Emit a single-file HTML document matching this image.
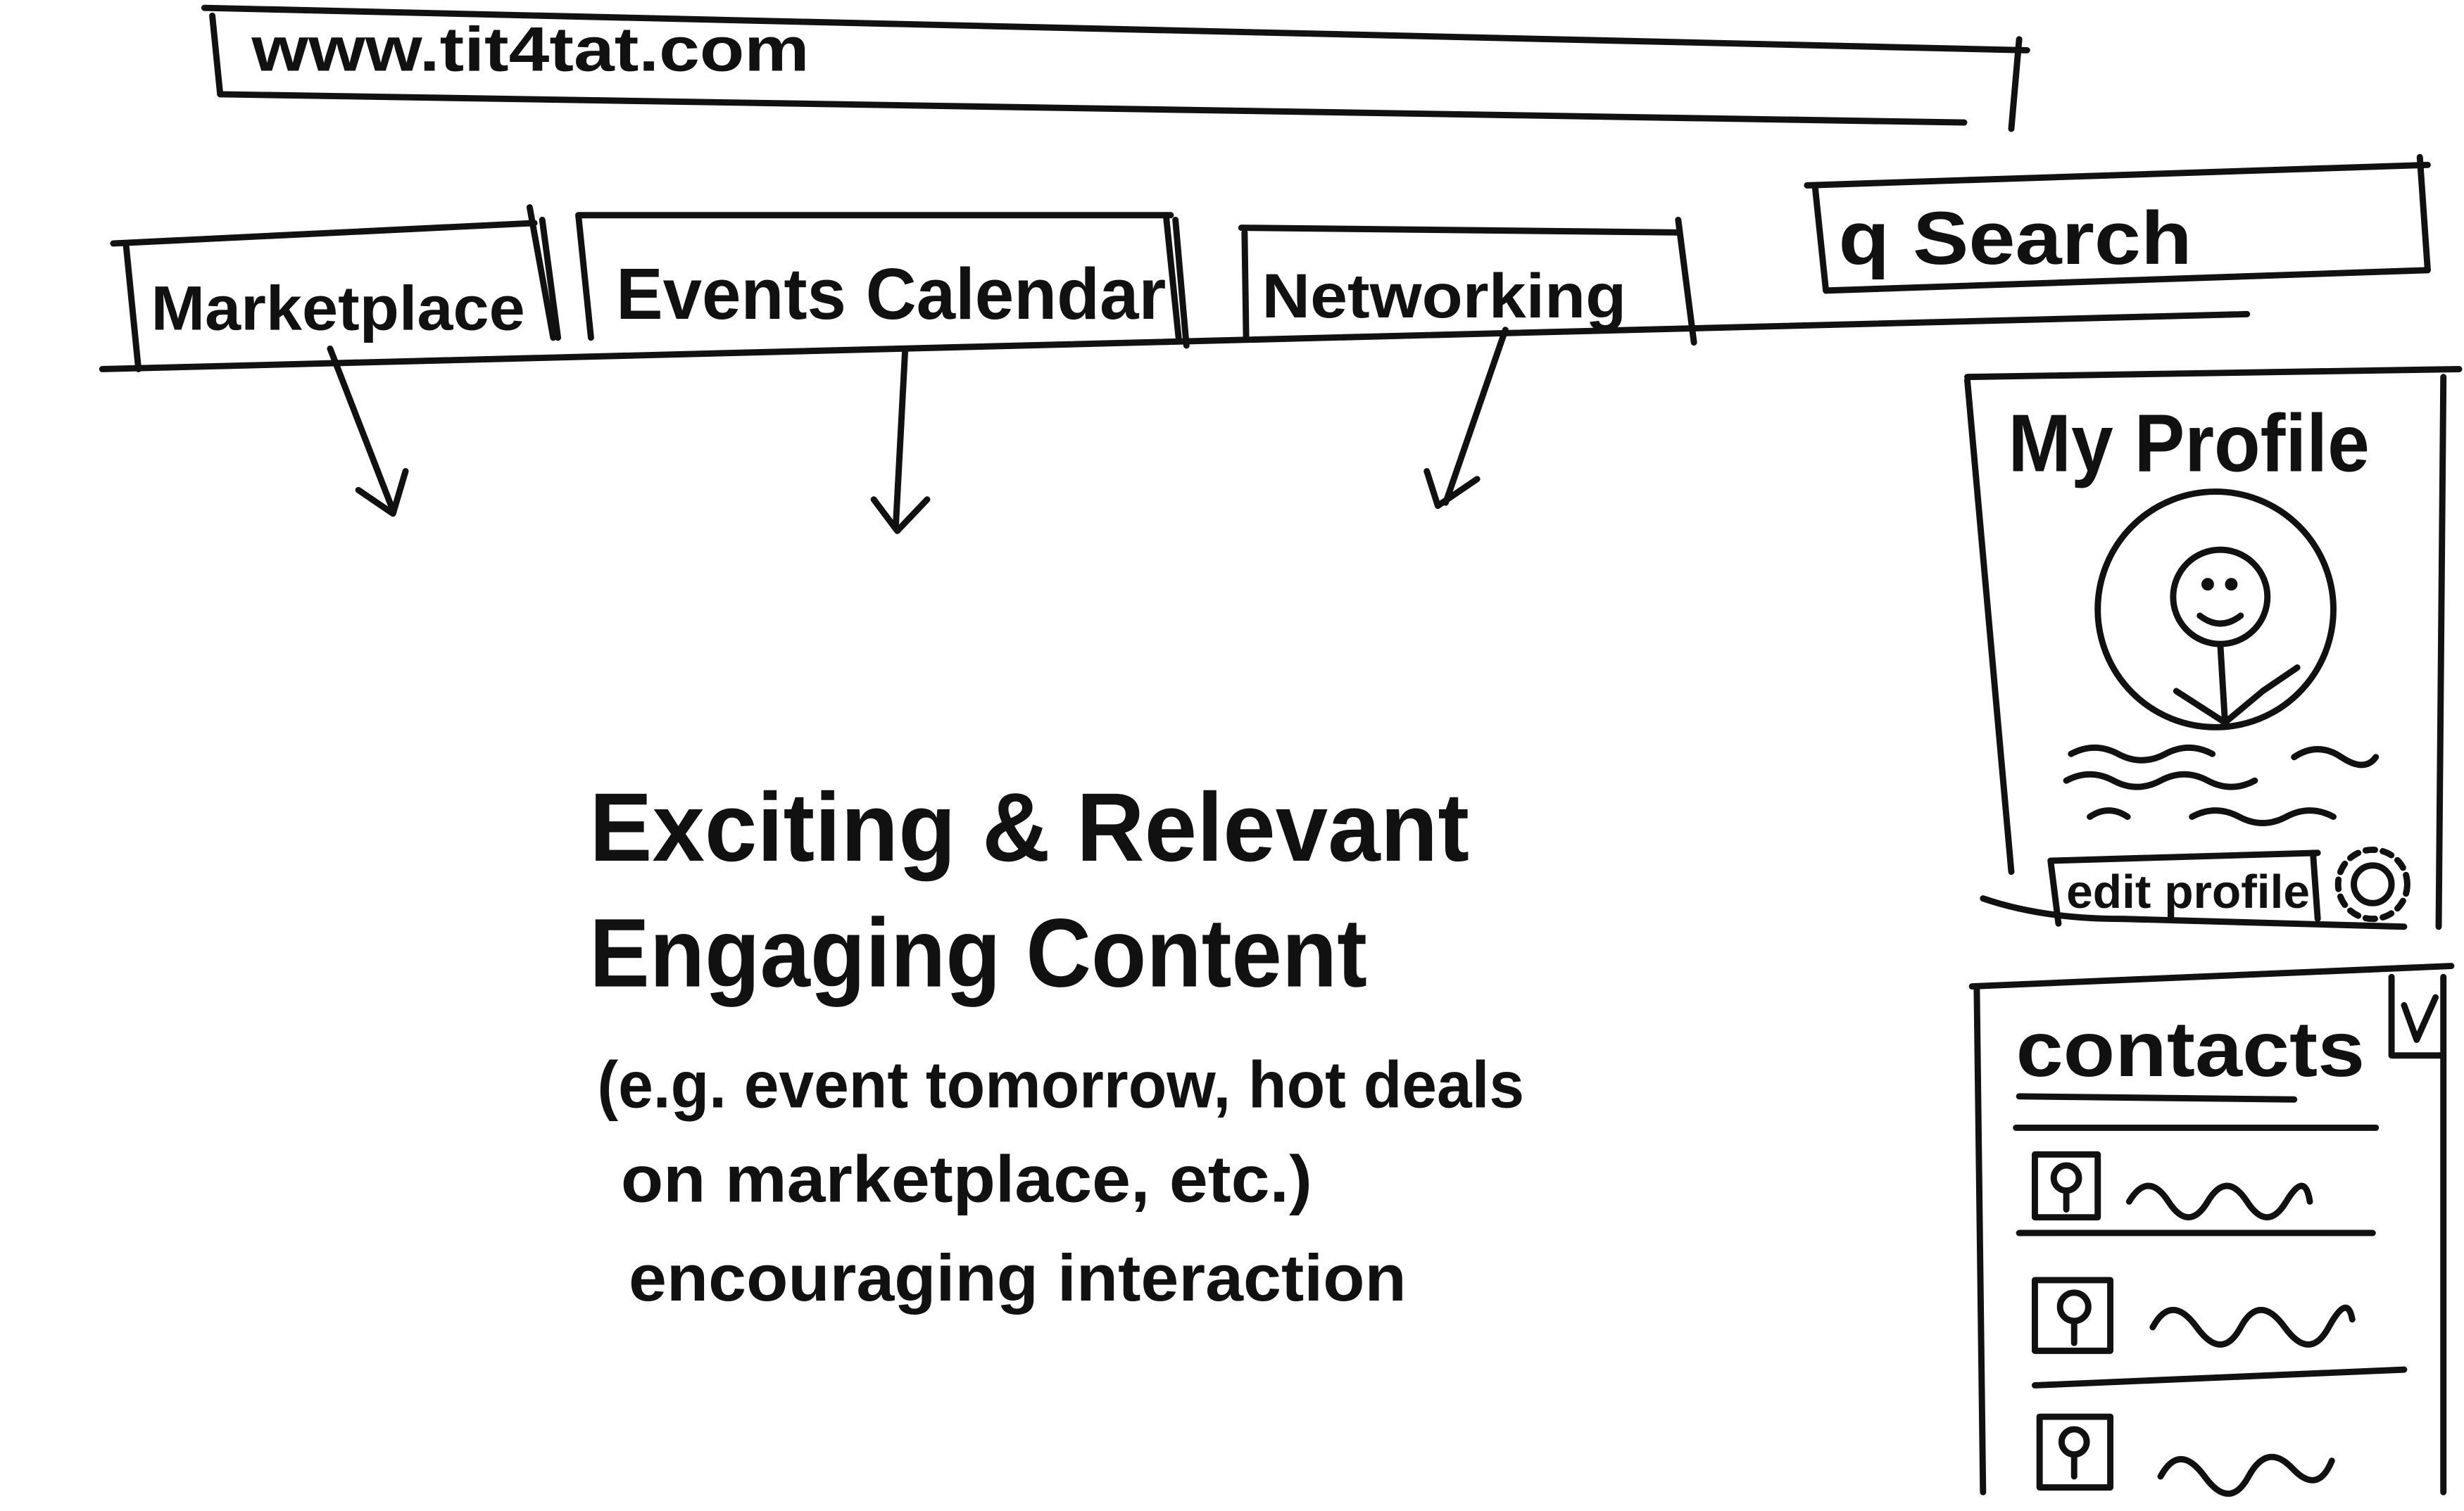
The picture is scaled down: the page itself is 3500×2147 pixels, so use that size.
<!DOCTYPE html>
<html><head><meta charset="utf-8"><style>
html,body{margin:0;padding:0;background:#fff;}
svg{display:block;}
text{font-family:"Liberation Sans",sans-serif;fill:#111;font-weight:bold;}
</style></head><body>
<svg width="3500" height="2147" viewBox="0 0 1568 962" xmlns="http://www.w3.org/2000/svg">
<rect width="1568" height="962" fill="#fff"/>
<g fill="none" stroke="#111" stroke-width="4" stroke-linecap="round" stroke-linejoin="round">
<path d="M130 5 L1290 32"/><path d="M135 10 L140 60"/><path d="M140 60 L1250 78"/><path d="M1285 25 L1280 82"/>
<path d="M65 235 L1430 200"/>
<path d="M72 155 L340 142"/><path d="M80 155 L88 235"/><path d="M337 132 L352 215"/><path d="M345 140 L355 215"/>
<path d="M368 137 L745 137"/><path d="M368 137 L376 215"/><path d="M742 137 L750 215"/><path d="M748 140 L755 220"/>
<path d="M790 145 L1068 148"/><path d="M792 148 L793 215"/><path d="M1068 140 L1078 218"/>
<path d="M1150 118 L1545 105"/><path d="M1155 118 L1162 185"/><path d="M1162 185 L1545 172"/><path d="M1540 100 L1545 172"/>
<path d="M210 222 L250 325"/><path d="M228 312 L250 327 L258 300"/>
<path d="M576 222 L570 335"/><path d="M556 318 L571 338 L590 318"/>
<path d="M958 210 L920 320"/><path d="M908 300 L915 322 L940 305"/>
<path d="M1252 240 L1565 235"/><path d="M1252 242 L1280 555"/><path d="M1555 240 L1552 590"/><path d="M1262 572 Q1300 585 1350 585 L1530 590"/>
<circle cx="1410" cy="388" r="75"/><circle cx="1413" cy="380" r="30"/>
<path d="M1400 392 Q1413 402 1426 392"/><circle cx="1405" cy="372" r="2"/><circle cx="1420" cy="372" r="2"/>
<path d="M1413 410 L1416 460"/><path d="M1385 440 L1416 460 L1440 440 L1462 425"/>
<path d="M1318 480 q15 -8 30 0 t30 0 t30 0"/><path d="M1460 482 q15 -10 30 0 t22 0"/>
<path d="M1315 497 q15 -8 30 0 t30 0 t30 0 t30 0"/>
<path d="M1330 520 q12 -8 24 0"/><path d="M1395 520 q15 -8 30 0 t30 0 t30 0"/>
<path d="M1305 548 L1475 543"/><path d="M1305 548 L1310 588"/><path d="M1472 543 L1475 585"/>
<circle cx="1510" cy="563" r="12"/><circle cx="1510" cy="563" r="22" stroke-dasharray="6 5"/>
<path d="M1255 628 L1560 615"/><path d="M1258 628 L1262 950"/><path d="M1555 622 L1555 950"/>
<path d="M1522 622 L1522 672 L1555 672"/><path d="M1530 640 L1538 662 L1550 635"/>
<path d="M1285 698 L1460 700"/>
<path d="M1283 718 L1512 718"/><path d="M1285 785 L1510 785"/><path d="M1295 882 L1530 872"/>
<rect x="1295" y="735" width="40" height="40"/><circle cx="1315" cy="750" r="8"/><path d="M1315 758 L1315 770"/>
<path d="M1355 765 q12 -20 25 0 t25 0 t25 0 t25 0 t15 0"/>
<rect x="1295" y="815" width="48" height="45"/><circle cx="1320" cy="832" r="9"/><path d="M1320 841 L1320 855"/>
<path d="M1370 845 q12 -22 28 0 t28 0 t28 0 t28 0 t15 -5"/>
<rect x="1298" y="902" width="45" height="45"/><circle cx="1320" cy="918" r="8"/><path d="M1320 926 L1320 940"/>
<path d="M1375 940 q12 -22 28 0 t28 0 t28 -5 t25 -5"/>
</g>
<text x="160" y="45" font-size="40" textLength="355" lengthAdjust="spacingAndGlyphs">www.tit4tat.com</text>
<text x="96" y="210" font-size="40" textLength="238" lengthAdjust="spacingAndGlyphs">Marketplace</text>
<text x="392" y="203" font-size="46" textLength="350" lengthAdjust="spacingAndGlyphs">Events Calendar</text>
<text x="803" y="202" font-size="40" textLength="232" lengthAdjust="spacingAndGlyphs">Networking</text>
<text x="1170" y="168" font-size="48" textLength="225" lengthAdjust="spacingAndGlyphs">q Search</text>
<text x="1278" y="300" font-size="52" textLength="230" lengthAdjust="spacingAndGlyphs">My Profile</text>
<text x="1315" y="578" font-size="30" textLength="155" lengthAdjust="spacingAndGlyphs">edit profile</text>
<text x="1283" y="685" font-size="50" textLength="222" lengthAdjust="spacingAndGlyphs">contacts</text>
<text x="375" y="548" font-size="62" textLength="560" lengthAdjust="spacingAndGlyphs">Exciting &amp; Relevant</text>
<text x="375" y="628" font-size="62" textLength="495" lengthAdjust="spacingAndGlyphs">Engaging Content</text>
<text x="380" y="705" font-size="42" textLength="590" lengthAdjust="spacingAndGlyphs">(e.g. event tomorrow, hot deals</text>
<text x="395" y="765" font-size="42" textLength="440" lengthAdjust="spacingAndGlyphs">on marketplace, etc.)</text>
<text x="400" y="828" font-size="42" textLength="495" lengthAdjust="spacingAndGlyphs">encouraging  interaction</text>
</svg>
</body></html>
